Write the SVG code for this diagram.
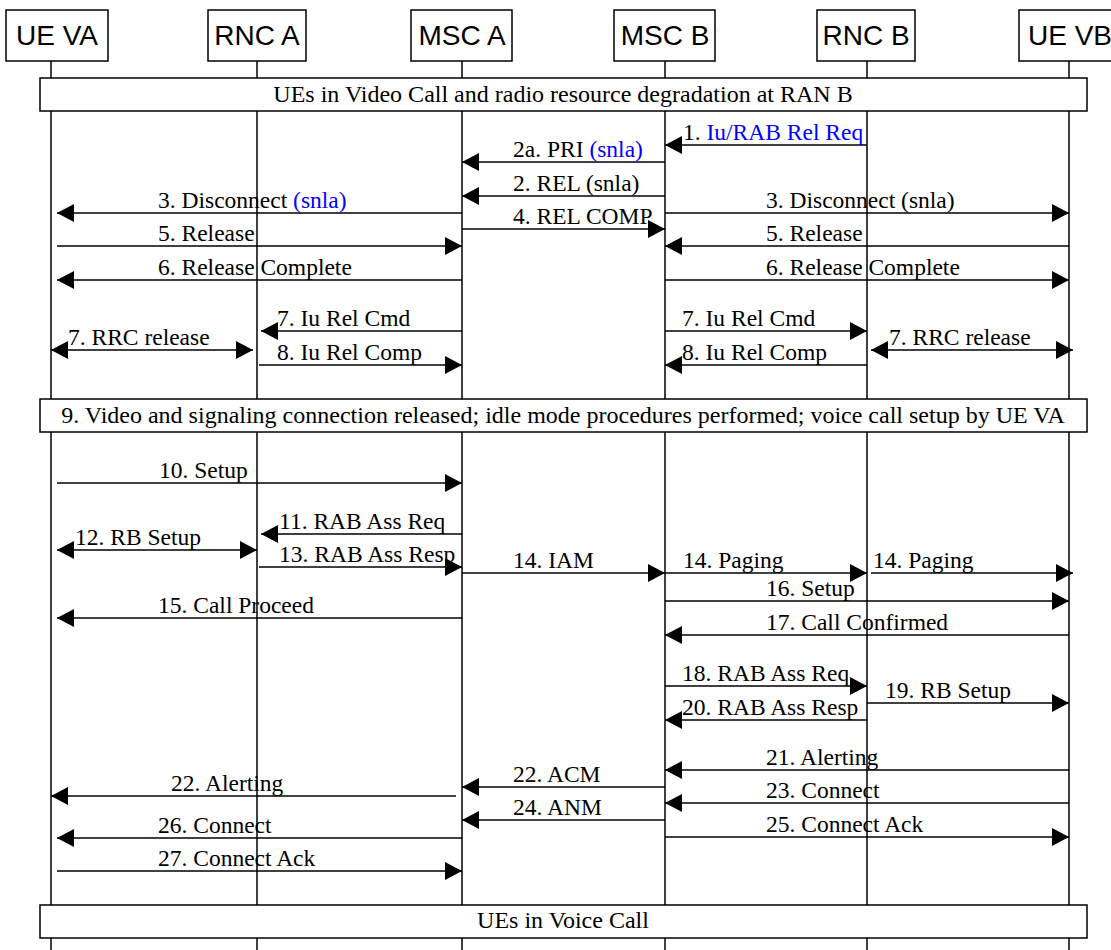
<svg xmlns="http://www.w3.org/2000/svg" width="1111" height="950" viewBox="0 0 1111 950">
<style>
.bg{fill:#fff}
.box{fill:#fff;stroke:#000;stroke-width:1.5}
.life{stroke:#000;stroke-width:1.5;fill:none}
.hdr{font-family:"Liberation Sans",Arial,sans-serif;font-size:28px;fill:#000;text-anchor:middle}
.ban{font-family:"Liberation Serif","Times New Roman",serif;font-size:24px;fill:#000;text-anchor:middle}
.lbl{font-family:"Liberation Serif","Times New Roman",serif;font-size:23.5px;fill:#000}
.blue{fill:#0000ff}
.msg{stroke:#000;stroke-width:1.5;fill:none;marker-end:url(#ah)}
.dbl{stroke:#000;stroke-width:1.5;fill:none;marker-end:url(#ah);marker-start:url(#ahs)}
</style>
<defs>
<marker id="ah" markerUnits="userSpaceOnUse" markerWidth="17" markerHeight="18" refX="17" refY="9" orient="auto" viewBox="0 0 17 18">
<path d="M0,0 L17,9 L0,18 z" fill="#000"/>
</marker>
<marker id="ahs" markerUnits="userSpaceOnUse" markerWidth="17" markerHeight="18" refX="17" refY="9" orient="auto-start-reverse" viewBox="0 0 17 18">
<path d="M0,0 L17,9 L0,18 z" fill="#000"/>
</marker>
</defs>
<rect class="bg" x="0" y="0" width="1111" height="950"/>

<g id="lifelines">
<line class="life" x1="51" y1="61" x2="51" y2="950"/>
<line class="life" x1="257" y1="61" x2="257" y2="950"/>
<line class="life" x1="462" y1="61" x2="462" y2="950"/>
<line class="life" x1="665" y1="61" x2="665" y2="950"/>
<line class="life" x1="867" y1="61" x2="867" y2="950"/>
<line class="life" x1="1069" y1="61" x2="1069" y2="950"/>
</g>

<g id="ue-va"><rect class="box" x="6" y="10" width="102" height="51"/><text class="hdr" x="57" y="45">UE VA</text></g>
<g id="rnc-a"><rect class="box" x="208" y="10" width="98" height="51"/><text class="hdr" x="257" y="45">RNC A</text></g>
<g id="msc-a"><rect class="box" x="411" y="10" width="101" height="51"/><text class="hdr" x="462" y="45">MSC A</text></g>
<g id="msc-b"><rect class="box" x="614" y="10" width="101" height="51"/><text class="hdr" x="665" y="45">MSC B</text></g>
<g id="rnc-b"><rect class="box" x="817" y="10" width="98" height="51"/><text class="hdr" x="866" y="45">RNC B</text></g>
<g id="ue-vb"><rect class="box" x="1019" y="10" width="102" height="51"/><text class="hdr" x="1070" y="45">UE VB</text></g>

<g id="banner-1"><rect class="box" x="40" y="78" width="1047" height="33"/><text class="ban" x="563" y="102">UEs in Video Call and radio resource degradation at RAN B</text></g>
<g id="banner-9"><rect class="box" x="40" y="399" width="1047" height="33"/><text class="ban" x="563" y="423">9. Video and signaling connection released; idle mode procedures performed; voice call setup by UE VA</text></g>
<g id="banner-end"><rect class="box" x="40" y="905" width="1047" height="33"/><text class="ban" x="563" y="928">UEs in Voice Call</text></g>

<g id="connectors">
<line class="msg" x1="867" y1="145" x2="665" y2="145"/>
<line class="msg" x1="665" y1="162" x2="462" y2="162"/>
<line class="msg" x1="665" y1="196" x2="462" y2="196"/>
<line class="msg" x1="462" y1="213" x2="57" y2="213"/>
<line class="msg" x1="665" y1="213" x2="1069" y2="213"/>
<line class="msg" x1="462" y1="229" x2="665" y2="229"/>
<line class="msg" x1="57" y1="246" x2="462" y2="246"/>
<line class="msg" x1="1069" y1="246" x2="665" y2="246"/>
<line class="msg" x1="462" y1="280" x2="57" y2="280"/>
<line class="msg" x1="665" y1="280" x2="1069" y2="280"/>
<line class="msg" x1="462" y1="331" x2="261" y2="331"/>
<line class="msg" x1="665" y1="331" x2="867" y2="331"/>
<line class="dbl" x1="51" y1="350" x2="253" y2="350"/>
<line class="dbl" x1="871" y1="350" x2="1073" y2="350"/>
<line class="msg" x1="259" y1="365" x2="462" y2="365"/>
<line class="msg" x1="867" y1="365" x2="665" y2="365"/>

<line class="msg" x1="57" y1="483" x2="462" y2="483"/>
<line class="msg" x1="462" y1="534" x2="261" y2="534"/>
<line class="dbl" x1="57" y1="550" x2="257" y2="550"/>
<line class="msg" x1="259" y1="567" x2="462" y2="567"/>
<line class="msg" x1="462" y1="573" x2="665" y2="573"/>
<line class="msg" x1="665" y1="573" x2="867" y2="573"/>
<line class="msg" x1="871" y1="573" x2="1073" y2="573"/>
<line class="msg" x1="665" y1="601" x2="1069" y2="601"/>
<line class="msg" x1="462" y1="618" x2="57" y2="618"/>
<line class="msg" x1="1069" y1="635" x2="665" y2="635"/>
<line class="msg" x1="665" y1="686" x2="867" y2="686"/>
<line class="msg" x1="867" y1="703" x2="1069" y2="703"/>
<line class="msg" x1="867" y1="720" x2="665" y2="720"/>
<line class="msg" x1="1069" y1="770" x2="665" y2="770"/>
<line class="msg" x1="665" y1="787" x2="462" y2="787"/>
<line class="msg" x1="456" y1="796" x2="51" y2="796"/>
<line class="msg" x1="1069" y1="803" x2="665" y2="803"/>
<line class="msg" x1="665" y1="820" x2="462" y2="820"/>
<line class="msg" x1="462" y1="838" x2="57" y2="838"/>
<line class="msg" x1="665" y1="837" x2="1069" y2="837"/>
<line class="msg" x1="57" y1="871" x2="462" y2="871"/>
</g>

<g id="labels">
<text class="lbl" x="683" y="140">1. <tspan class="blue">Iu/RAB Rel Req</tspan></text>
<text class="lbl" x="513" y="157">2a. PRI <tspan class="blue">(snla)</tspan></text>
<text class="lbl" x="513" y="191">2. REL (snla)</text>
<text class="lbl" x="158" y="208">3. Disconnect <tspan class="blue">(snla)</tspan></text>
<text class="lbl" x="766" y="208">3. Disconnect (snla)</text>
<text class="lbl" x="513" y="224">4. REL COMP</text>
<text class="lbl" x="158" y="241">5. Release</text>
<text class="lbl" x="766" y="241">5. Release</text>
<text class="lbl" x="158" y="275">6. Release Complete</text>
<text class="lbl" x="766" y="275">6. Release Complete</text>
<text class="lbl" x="277" y="326">7. Iu Rel Cmd</text>
<text class="lbl" x="682" y="326">7. Iu Rel Cmd</text>
<text class="lbl" x="68" y="345">7. RRC release</text>
<text class="lbl" x="889" y="345">7. RRC release</text>
<text class="lbl" x="277" y="360">8. Iu Rel Comp</text>
<text class="lbl" x="682" y="360">8. Iu Rel Comp</text>

<text class="lbl" x="159" y="478">10. Setup</text>
<text class="lbl" x="279" y="529">11. RAB Ass Req</text>
<text class="lbl" x="75" y="545">12. RB Setup</text>
<text class="lbl" x="279" y="562">13. RAB Ass Resp</text>
<text class="lbl" x="513" y="568">14. IAM</text>
<text class="lbl" x="683" y="568">14. Paging</text>
<text class="lbl" x="873" y="568">14. Paging</text>
<text class="lbl" x="766" y="596">16. Setup</text>
<text class="lbl" x="158" y="613">15. Call Proceed</text>
<text class="lbl" x="766" y="630">17. Call Confirmed</text>
<text class="lbl" x="682" y="681">18. RAB Ass Req</text>
<text class="lbl" x="885" y="698">19. RB Setup</text>
<text class="lbl" x="682" y="715">20. RAB Ass Resp</text>
<text class="lbl" x="766" y="765">21. Alerting</text>
<text class="lbl" x="513" y="782">22. ACM</text>
<text class="lbl" x="171" y="791">22. Alerting</text>
<text class="lbl" x="766" y="798">23. Connect</text>
<text class="lbl" x="513" y="815">24. ANM</text>
<text class="lbl" x="158" y="833">26. Connect</text>
<text class="lbl" x="766" y="832">25. Connect Ack</text>
<text class="lbl" x="158" y="866">27. Connect Ack</text>
</g>
</svg>
